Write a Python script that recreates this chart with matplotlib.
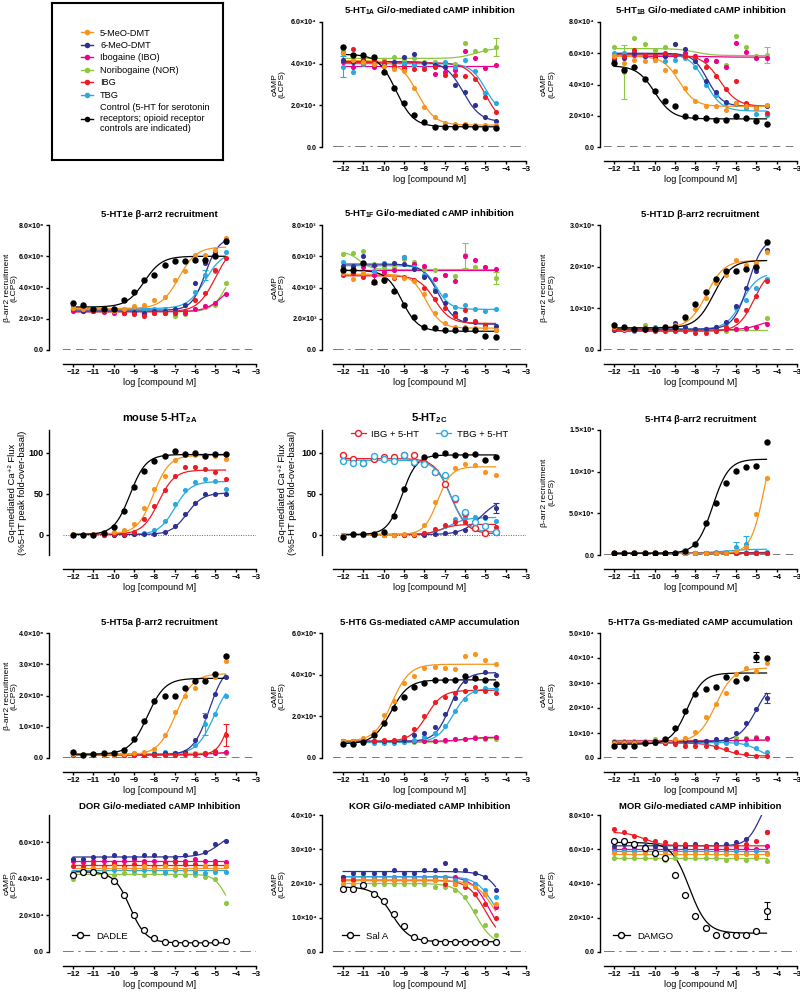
import matplotlib
matplotlib.use('Agg')
import matplotlib.pyplot as plt
import numpy as np
from matplotlib.lines import Line2D

plt.rcParams['font.family'] = ['Liberation Sans', 'DejaVu Sans']
plt.rcParams['font.weight'] = 'bold'
plt.rcParams['mathtext.fontset'] = 'custom'
plt.rcParams['mathtext.rm'] = 'Liberation Sans:bold'
plt.rcParams['mathtext.bf'] = 'Liberation Sans:bold'
plt.rcParams['mathtext.it'] = 'Liberation Sans:bold'

# log molar concentrations used in every panel
log_dose = [-12, -11.5, -11, -10.5, -10, -9.5, -9, -8.5, -8, -7.5, -7, -6.5, -6, -5.5, -5, -4.5]

# compound order: 5-MeO-DMT, 6-MeO-DMT, IBO, NOR, IBG, TBG, Control
names = ['5-MeO-DMT', '6-MeO-DMT', 'Ibogaine (IBO)', 'Noribogaine (NOR)', 'IBG', 'TBG',
         'Control (5-HT for serotonin\nreceptors; opioid receptor\ncontrols are indicated)']
colors = ['#F7941D', '#2E3192', '#EC008C', '#8DC63F', '#ED1C24', '#27AAE1', '#000000']

# ---- 5-HT1A cAMP (x1e4) ----
ht1a = [
    [4.5, 4.2, 4.1, 4.0, 3.9, 3.75, 3.65, 2.85, 1.9, 1.45, 1.15, 1.1, 1.1, 1.05, 1.05, 1.05],
    [4.2, 4.1, 4.2, 4.0, 4.0, 4.1, 4.3, 4.45, 4.05, 3.95, 3.85, 3.0, 2.65, 2.0, 1.45, 1.25],
    [4.1, 3.85, 4.0, 3.85, 3.9, 3.8, 3.9, 4.0, 3.8, 3.5, 3.6, 3.7, 4.6, 4.25, 3.8, 3.95],
    [4.6, 4.4, 4.25, 4.3, 4.2, 4.3, 4.2, 4.25, 4.1, 4.1, 4.0, 4.0, 5.0, 4.6, 4.65, 4.8],
    [4.5, 4.7, 4.3, 4.2, 4.1, 3.9, 3.8, 3.75, 3.75, 3.85, 3.45, 3.45, 3.4, 3.25, 2.4, 1.7],
    [3.85, 3.6, 4.0, 4.3, 3.95, 4.1, 4.05, 3.95, 3.8, 4.0, 4.1, 3.85, 4.2, 3.65, 2.6, 2.1],
    [4.8, 4.4, 4.4, 4.3, 3.6, 2.85, 2.1, 1.55, 1.2, 0.98, 0.95, 0.95, 1.0, 0.98, 0.92, 0.92],
]
# fit parameters: (left plateau, right plateau, logEC50, hill)
ht1a_fit = [(4.15, 1.05, -8.35, 1), (4.1, 1.2, -6.1, 1), (3.9, 3.9, -7, 1), (4.25, 4.75, -5.5, 1),
            (4.05, 1.0, -5.0, 1), (4.0, 1.6, -5.0, 1.2), (4.45, 0.97, -9.4, 1)]

# ---- 5-HT1B cAMP (x1e4) ----
ht1b = [
    [5.8, 5.4, 5.6, 5.5, 5.6, 4.95, 4.85, 3.75, 2.95, 2.65, 2.6, 2.4, 2.8, 2.6, 2.5, 2.7],
    [5.6, 5.7, 6.0, 5.8, 5.8, 5.8, 6.6, 6.3, 5.5, 4.2, 3.5, 2.9, 2.8, 2.7, 2.5, 2.6],
    [5.9, 5.8, 5.9, 5.8, 5.7, 5.8, 5.9, 6.0, 5.8, 5.6, 5.5, 5.15, 6.65, 6.05, 5.7, 5.7],
    [6.4, 4.8, 7.0, 6.6, 6.2, 6.4, 6.6, 6.0, 5.8, 5.55, 5.5, 5.25, 7.1, 6.4, 5.8, 5.9],
    [5.7, 5.8, 6.2, 5.9, 5.8, 6.0, 5.9, 5.8, 5.75, 5.1, 4.55, 3.7, 4.2, 2.8, 2.5, 2.15],
    [6.0, 6.0, 6.0, 5.8, 5.6, 5.5, 5.6, 5.7, 5.1, 4.0, 3.3, 2.8, 2.75, 2.5, 2.1, 2.05],
    [5.35, 4.95, 5.1, 4.35, 3.6, 2.95, 2.6, 2.0, 1.9, 1.85, 1.75, 1.75, 2.0, 1.85, 1.65, 1.5],
]
ht1b_fit = [(5.8, 2.6, -8.8, 1.1), (6.0, 2.6, -7.4, 1.2), (5.8, 5.75, -7, 1), (6.3, 5.85, -8, 1),
            (5.9, 2.6, -6.8, 1), (5.95, 2.3, -7.5, 1.1), (5.2, 1.8, -10.0, 1)]

# ---- 5-HT1e b-arr2 (x1e6) ----
ht1e = [
    [2.7, 2.6, 2.6, 2.55, 2.5, 2.6, 2.8, 2.85, 3.2, 3.4, 4.5, 5.05, 6.05, 6.05, 6.4, 7.2],
    [2.6, 2.5, 2.5, 2.5, 2.5, 2.45, 2.45, 2.4, 2.5, 2.5, 2.6, 2.9, 4.3, 5.6, 6.3, 6.9],
    [2.5, 2.5, 2.5, 2.45, 2.4, 2.4, 2.4, 2.4, 2.4, 2.4, 2.4, 2.4, 2.6, 2.8, 3.0, 3.6],
    [2.6, 2.6, 2.6, 2.5, 2.5, 2.4, 2.4, 2.4, 2.4, 2.4, 2.2, 2.3, 2.65, 2.75, 2.9, 4.3],
    [2.6, 2.6, 2.5, 2.5, 2.5, 2.4, 2.3, 2.2, 2.4, 2.4, 2.4, 2.5, 3.2, 3.65, 5.1, 5.9],
    [2.8, 2.7, 2.7, 2.6, 2.5, 2.6, 2.6, 2.6, 2.6, 2.65, 2.6, 2.9, 3.7, 4.8, 5.05, 6.3],
    [3.0, 2.9, 2.6, 2.6, 2.6, 3.2, 3.7, 4.5, 4.8, 5.45, 5.7, 5.7, 5.75, 5.75, 6.0, 7.0],
]
ht1e_fit = [(2.65, 6.6, -6.8, 1), (2.55, 7.2, -5.5, 1.3), (2.45, 4.5, -4.6, 1), (2.45, 6.0, -4.4, 1.2),
            (2.45, 6.8, -5.0, 1), (2.65, 6.3, -5.5, 1), (2.75, 6.0, -8.5, 1)]

# ---- 5-HT1F cAMP (x1e3) ----
ht1f = [
    [4.9, 4.55, 4.9, 4.4, 4.6, 4.7, 4.6, 4.4, 3.6, 2.4, 1.7, 1.5, 1.5, 1.4, 1.4, 1.3],
    [5.4, 5.4, 6.0, 5.45, 5.5, 5.55, 5.5, 5.2, 4.7, 3.75, 3.0, 2.4, 2.0, 1.8, 1.6, 1.55],
    [5.2, 4.9, 5.3, 4.8, 5.0, 5.1, 5.95, 5.5, 5.4, 4.55, 4.8, 4.4, 6.0, 5.75, 5.3, 5.2],
    [6.15, 6.2, 6.35, 5.5, 5.3, 5.3, 5.8, 5.65, 5.2, 5.1, 4.8, 4.75, 6.05, 5.3, 5.3, 4.6],
    [4.8, 4.9, 4.7, 4.4, 4.4, 4.6, 4.65, 4.45, 4.0, 3.25, 2.7, 2.15, 2.55, 1.85, 1.6, 1.25],
    [5.65, 5.35, 5.6, 5.05, 5.55, 4.65, 5.95, 5.3, 4.8, 3.9, 3.55, 2.75, 2.85, 2.6, 2.5, 2.6],
    [5.1, 5.1, 5.55, 4.35, 4.45, 3.8, 2.9, 2.1, 1.5, 1.4, 1.3, 1.3, 1.35, 1.25, 0.9, 0.85],
]
ht1f_fit = [(4.85, 1.4, -7.9, 1.2), (5.5, 1.65, -7.3, 1.1), (5.15, 5.15, -7, 1), (6.3, 5.15, -11.2, 1.5),
            (4.75, 1.7, -7.5, 1.1), (5.4, 2.6, -7.4, 1.3), (5.1, 1.2, -9.1, 1.1)]

# ---- 5-HT1D b-arr2 (x1e6) ----
ht1d = [
    [0.55, 0.5, 0.5, 0.55, 0.5, 0.55, 0.6, 0.75, 0.98, 1.25, 1.6, 1.8, 2.15, 2.05, 2.1, 2.35],
    [0.48, 0.5, 0.48, 0.5, 0.5, 0.5, 0.65, 0.55, 0.5, 0.5, 0.55, 0.68, 1.05, 1.5, 1.9, 2.4],
    [0.5, 0.48, 0.5, 0.5, 0.48, 0.5, 0.5, 0.5, 0.5, 0.5, 0.5, 0.5, 0.5, 0.52, 0.55, 0.62],
    [0.5, 0.5, 0.5, 0.6, 0.5, 0.5, 0.48, 0.48, 0.45, 0.45, 0.45, 0.45, 0.5, 0.5, 0.55, 0.77],
    [0.5, 0.5, 0.48, 0.48, 0.45, 0.45, 0.45, 0.45, 0.42, 0.42, 0.45, 0.55, 0.72, 0.97, 1.3, 1.65],
    [0.55, 0.5, 0.45, 0.5, 0.55, 0.5, 0.5, 0.5, 0.5, 0.5, 0.55, 0.65, 1.0, 1.2, 1.5, 1.7],
    [0.6, 0.55, 0.5, 0.5, 0.5, 0.55, 0.55, 0.8, 1.1, 1.4, 1.7, 1.9, 1.9, 1.95, 2.0, 2.6],
]
ht1d_fit = [(0.53, 2.15, -7.45, 1), (0.5, 2.7, -5.4, 1.2), (0.48, 0.75, -4.8, 1), (0.48, 0.48, -7, 1),
            (0.45, 2.0, -5.1, 1.1), (0.5, 1.85, -5.7, 1.1), (0.53, 2.15, -7.1, 1)]

# ---- mouse 5-HT2A Ca flux (%) ----
ht2a = [
    [1, 0, 1, 2, 3, 5, 13, 33, 56, 72, 91, 97, 97, 97, 96, 92],
    [0, 0, 0, 0, 0, 0, 1, 1, 1, 3, 11, 25, 39, 50, 50, 50],
    None,
    None,
    [0, 0, 0, 0, 1, 1, 3, 19, 35, 55, 72, 83, 83, 80, 77, 68],
    [0, 0, 0, 0, 0, 0, 1, 2, 6, 17, 38, 54, 64, 68, 65, 56],
    [-1, -1, 0, 2, 9, 29, 58, 78, 90, 96, 102, 99, 100, 96, 99, 99],
]
ht2a_fit = [(1, 97, -8.05, 1.1), (0, 51, -6.4, 1.1), None, None,
            (0.5, 79, -7.8, 1.1), (0, 65, -7.0, 1.1), (0, 98, -9.2, 1.1)]

# ---- 5-HT2C Ca flux (%) ----
ht2c = [
    [0, 0, 0, 0, 0, 0, 1, 1, 12, 40, 73, 82, 86, 85, 77, 73],
    [0, 0, 0, 0, 0, 0, 0, 0, 0, 1, 2, 3, 6, 17, 22, 33],
    None,
    None,
    [0, 0, 0, 0, 0, 0, 0, 0, 2, 7, 12, 15, 15, 13, 11, 9],
    [0, 0, 0, 0, 0, 0, 0, 1, 2, 6, 10, 19, 21, 22, 20, 17],
    [-3, 1, 1, 1, 3, 23, 56, 88, 95, 97, 100, 98, 98, 99, 91, 95],
]
ht2c_fit = [(0, 83, -7.35, 1.3), (0, 45, -5.2, 0.9), None, None,
            (0, 12.5, -7.2, 1.2), (0, 21, -6.8, 1), (0, 97.5, -9.1, 1.2)]
ibg_5ht = [97, 93, 88, 93, 95, 95, 98, 97, 88, 76, 62, 44, 27, 8, 2, 3]
tbg_5ht = [90, 87, 88, 96, 93, 90, 97, 89, 86, 77, 73, 45, 28, 15, 10, 3]
ibg_5ht_fit = (93, 1, -6.7, 1.1)
tbg_5ht_fit = (91, 3, -6.7, 1.1)

# ---- 5-HT4 b-arr2 (x1e6) ----
ht4 = [
    [0.02, 0.02, 0.02, 0.02, 0.02, 0.02, 0.02, 0.02, 0.02, 0.02, 0.02, 0.02, 0.05, 0.1, 0.49, 0.93],
    [0.02, 0.02, 0.02, 0.02, 0.02, 0.02, 0.02, 0.02, 0.02, 0.02, 0.02, 0.02, 0.02, 0.02, 0.03, 0.03],
    [0.02, 0.02, 0.02, 0.02, 0.02, 0.02, 0.02, 0.02, 0.02, 0.02, 0.02, 0.02, 0.03, 0.03, 0.03, 0.03],
    [0.02, 0.02, 0.02, 0.02, 0.02, 0.02, 0.02, 0.02, 0.02, 0.02, 0.02, 0.02, 0.02, 0.02, 0.02, 0.02],
    [0.02, 0.02, 0.02, 0.02, 0.02, 0.02, 0.02, 0.02, 0.02, 0.02, 0.02, 0.02, 0.02, 0.02, 0.02, 0.02],
    [0.02, 0.02, 0.02, 0.02, 0.02, 0.02, 0.02, 0.02, 0.02, 0.03, 0.04, 0.04, 0.1, 0.13, 0.04, 0.04],
    [0.02, 0.02, 0.02, 0.02, 0.02, 0.02, 0.03, 0.05, 0.13, 0.39, 0.63, 0.87, 1.01, 1.06, 1.07, 1.35],
]
ht4_fit = [(0.02, 1.6, -4.6, 1.3), (0.02, 0.03, -6, 1), (0.02, 0.03, -6, 1), (0.02, 0.02, -6, 1),
           (0.02, 0.025, -6, 1), (0.025, 0.07, -6.5, 0.8), (0.02, 1.15, -7.15, 1.1)]

# ---- 5-HT5a b-arr2 (x1e6) ----
ht5a = [
    [0.12, 0.1, 0.1, 0.1, 0.1, 0.12, 0.15, 0.18, 0.3, 0.75, 1.47, 2.0, 2.25, 2.5, 2.6, 3.1],
    [0.1, 0.1, 0.1, 0.1, 0.1, 0.1, 0.12, 0.12, 0.12, 0.15, 0.15, 0.18, 0.58, 1.35, 2.05, 2.6],
    [0.1, 0.1, 0.1, 0.1, 0.1, 0.1, 0.1, 0.1, 0.1, 0.1, 0.1, 0.12, 0.12, 0.12, 0.15, 0.18],
    [0.12, 0.12, 0.12, 0.12, 0.12, 0.12, 0.15, 0.15, 0.15, 0.15, 0.15, 0.15, 0.15, 0.15, 0.15, 0.15],
    [0.1, 0.1, 0.1, 0.1, 0.1, 0.1, 0.1, 0.1, 0.1, 0.1, 0.1, 0.12, 0.12, 0.15, 0.22, 0.75],
    [0.1, 0.1, 0.1, 0.12, 0.1, 0.12, 0.12, 0.15, 0.15, 0.18, 0.15, 0.15, 0.42, 1.1, 1.4, 2.0],
    [0.2, 0.1, 0.12, 0.15, 0.15, 0.25, 0.6, 1.2, 1.82, 2.0, 1.98, 2.25, 2.45, 2.45, 2.7, 3.25],
]
ht5a_fit = [(0.1, 2.7, -6.95, 1), (0.1, 3.0, -5.3, 1.1), (0.1, 0.2, -5, 1), (0.12, 0.15, -8, 1),
            (0.1, 2.5, -4.25, 1.5), (0.12, 2.6, -5.05, 1), (0.12, 2.55, -8.35, 1)]

# ---- 5-HT6 cAMP (x1e5) ----
ht6 = [
    [0.8, 0.8, 0.95, 1.25, 2.05, 2.75, 3.6, 3.95, 4.3, 4.35, 4.3, 4.25, 4.9, 5.0, 4.7, 4.5],
    [0.8, 0.8, 0.8, 0.8, 0.8, 0.8, 0.85, 1.1, 1.2, 1.5, 2.1, 2.9, 3.7, 3.85, 4.15, 4.0],
    [0.8, 0.8, 0.8, 0.8, 0.8, 0.8, 0.8, 0.8, 0.8, 0.8, 0.85, 0.9, 0.9, 0.95, 0.95, 1.0],
    [0.75, 0.75, 0.75, 0.75, 0.75, 0.75, 0.75, 0.75, 0.8, 0.8, 0.8, 0.9, 0.9, 1.0, 0.9, 0.9],
    [0.8, 0.8, 0.8, 0.8, 0.85, 0.85, 1.0, 1.4, 2.0, 2.7, 2.95, 3.1, 3.2, 3.4, 3.2, 3.1],
    [0.7, 0.7, 0.7, 0.7, 0.7, 0.7, 0.75, 0.85, 1.0, 1.2, 1.55, 2.25, 2.85, 3.2, 3.35, 3.3],
    [0.65, 0.65, 0.75, 1.1, 1.7, 2.4, 2.95, 3.4, 3.6, 3.75, 3.75, 3.75, 3.95, 3.85, 3.75, 3.55],
]
ht6_fit = [(0.8, 4.5, -9.6, 1), (0.8, 4.1, -6.75, 1.2), (0.8, 1.0, -6, 1), (0.75, 0.95, -6.5, 1),
           (0.8, 3.25, -7.9, 1.1), (0.75, 3.35, -6.6, 1.1), (0.68, 3.75, -9.65, 1)]

# ---- 5-HT7a cAMP (x1e4) ----
ht7a = [
    [0.6, 0.6, 0.6, 0.6, 0.65, 0.7, 0.75, 0.8, 1.05, 1.65, 2.15, 2.6, 3.35, 3.6, 3.5, 3.8],
    [0.65, 0.6, 0.6, 0.6, 0.6, 0.65, 0.7, 0.7, 0.7, 0.7, 0.75, 0.75, 1.0, 1.4, 1.95, 2.4],
    [0.65, 0.65, 0.65, 0.65, 0.7, 0.7, 0.7, 0.7, 0.7, 0.7, 0.7, 0.7, 0.7, 0.75, 0.8, 0.8],
    [0.7, 0.7, 0.7, 0.7, 0.75, 0.7, 0.7, 0.7, 0.7, 0.7, 0.7, 0.7, 0.8, 0.8, 0.85, 0.75],
    [0.55, 0.55, 0.55, 0.6, 0.6, 0.6, 0.55, 0.5, 0.5, 0.5, 0.45, 0.35, 0.25, 0.15, 0.1, 0.1],
    [0.6, 0.6, 0.6, 0.6, 0.6, 0.6, 0.6, 0.6, 0.6, 0.6, 0.6, 0.6, 0.6, 0.55, 0.4, 0.25],
    [0.5, 0.5, 0.5, 0.6, 0.65, 0.75, 1.2, 1.9, 2.55, 2.75, 2.85, 3.25, 3.1, 3.2, 4.05, 4.0],
]
ht7a_fit = [(0.65, 3.6, -7.0, 1), (0.65, 3.2, -5.0, 1), (0.68, 0.72, -6, 1), (0.72, 0.72, -6, 1),
            (0.6, 0.08, -6.6, 1), (0.62, 0.0, -4.9, 1.2), (0.55, 3.4, -8.4, 1.1)]

# ---- DOR cAMP (x1e4), control = DADLE ----
dor = [
    [4.2, 4.5, 4.6, 4.6, 4.7, 4.6, 4.6, 4.7, 4.6, 4.7, 4.6, 4.5, 4.6, 4.7, 4.6, 4.7],
    [5.1, 5.1, 5.2, 5.2, 5.3, 5.2, 5.2, 5.3, 5.3, 5.2, 5.2, 5.3, 5.4, 5.5, 5.9, 6.1],
    [5.0, 4.9, 5.0, 5.0, 4.9, 5.0, 5.1, 5.0, 5.0, 4.9, 5.0, 5.0, 5.1, 5.0, 5.0, 4.9],
    [4.0, 4.3, 4.3, 4.3, 4.2, 4.3, 4.3, 4.2, 4.3, 4.3, 4.2, 4.2, 4.2, 4.1, 4.0, 2.7],
    [4.7, 4.7, 4.8, 4.7, 4.8, 4.7, 4.8, 4.8, 4.7, 4.8, 4.9, 4.8, 4.8, 4.7, 4.8, 4.7],
    [4.4, 4.5, 4.5, 4.4, 4.5, 4.6, 4.5, 4.5, 4.5, 4.4, 4.5, 4.5, 4.4, 4.3, 4.4, 4.4],
    [4.2, 4.4, 4.4, 4.2, 3.9, 3.1, 2.0, 1.2, 0.75, 0.55, 0.5, 0.5, 0.5, 0.5, 0.55, 0.6],
]
dor_fit = [(4.6, 4.6, -6, 1), (5.2, 6.6, -4.8, 1), (5.0, 5.0, -6, 1), (4.25, 2.0, -4.5, 1.5),
           (4.78, 4.78, -6, 1), (4.47, 4.47, -6, 1), (4.4, 0.5, -9.2, 1.1)]

# ---- KOR cAMP (x1e4), control = Sal A ----
kor = [
    [2.0, 2.0, 2.1, 2.1, 2.1, 2.1, 2.1, 2.1, 2.1, 2.1, 2.1, 2.0, 2.0, 1.9, 1.7, 1.4],
    [2.2, 2.3, 2.3, 2.3, 2.3, 2.4, 2.3, 2.3, 2.4, 2.4, 2.6, 2.4, 2.4, 2.3, 2.2, 1.8],
    [2.2, 2.2, 2.2, 2.2, 2.2, 2.2, 2.2, 2.2, 2.2, 2.2, 2.2, 2.2, 2.1, 2.0, 1.7, 1.3],
    [2.0, 2.0, 2.0, 2.0, 2.0, 2.0, 2.0, 2.0, 2.0, 1.9, 1.9, 1.8, 1.6, 1.2, 0.8, 0.5],
    [2.1, 2.1, 2.1, 2.1, 2.1, 2.1, 2.1, 2.1, 2.1, 2.1, 2.0, 2.0, 1.9, 1.7, 1.4, 1.0],
    [2.2, 2.2, 2.2, 2.2, 2.2, 2.2, 2.2, 2.2, 2.2, 2.2, 2.2, 2.1, 2.1, 2.0, 1.8, 1.6],
    [1.85, 1.85, 1.95, 1.7, 1.5, 1.1, 0.75, 0.45, 0.35, 0.3, 0.3, 0.3, 0.3, 0.3, 0.3, 0.3],
]
kor_fit = [(2.08, 0.5, -4.6, 1), (2.35, 0.5, -4.0, 1), (2.2, 0.3, -4.8, 1), (2.0, 0.2, -5.5, 1),
           (2.1, 0.3, -5.0, 1), (2.2, 0.6, -4.6, 1), (1.9, 0.3, -9.6, 1)]

# ---- MOR cAMP (x1e4), control = DAMGO ----
mor = [
    [5.8, 5.8, 5.7, 5.8, 5.7, 5.7, 5.8, 5.7, 5.7, 5.8, 5.7, 5.7, 5.6, 5.7, 5.6, 5.7],
    [6.2, 6.3, 6.2, 6.2, 6.2, 6.1, 6.2, 6.2, 6.3, 6.2, 6.3, 6.3, 6.4, 6.6, 8.7, 7.0],
    [6.0, 6.0, 6.0, 6.1, 6.0, 6.0, 6.0, 6.1, 6.0, 6.0, 6.0, 6.0, 6.0, 6.1, 6.0, 6.2],
    [5.5, 5.5, 5.5, 5.5, 5.5, 5.4, 5.5, 5.5, 5.5, 5.5, 5.5, 5.4, 5.5, 5.4, 5.5, 5.3],
    [7.2, 7.0, 6.8, 6.6, 6.5, 6.4, 6.3, 6.3, 6.2, 6.2, 6.2, 6.1, 6.2, 6.3, 6.5, 7.0],
    [5.9, 5.9, 5.9, 5.8, 5.9, 5.9, 5.8, 5.9, 5.9, 5.9, 5.8, 5.9, 5.9, 5.8, 5.9, 5.8],
    [6.5, 6.5, 6.3, 6.1, 5.8, 5.5, 4.5, 3.3, 2.1, 1.4, 1.0, 1.0, 1.0, 1.0, 1.2, 2.4],
]
mor_fit = [(5.7, 5.7, -6, 1), (6.2, 9.5, -4.8, 1.3), (6.0, 6.0, -6, 1), (5.5, 5.5, -6, 1),
           (7.0, 6.2, -10.5, 1), (5.9, 5.9, -6, 1), (6.4, 1.1, -8.3, 1)]

# the larger visible error bars: (panel, compound index, dose index, sem) in panel units
sem_marks = [('ht1a', 5, 0, 0.5), ('ht1a', 3, 15, 0.45), ('ht1b', 3, 1, 1.75), ('ht1b', 3, 15, 0.5),
             ('ht1f', 2, 3, 0.6), ('ht1f', 3, 12, 0.8), ('ht1f', 3, 15, 0.4), ('ht1e', 5, 13, 0.35),
             ('ht2c', 1, 15, 6), ('ht4', 5, 12, 0.06), ('ht4', 5, 13, 0.1), ('ht5a', 4, 15, 0.35),
             ('ht5a', 5, 13, 0.35), ('ht7a', 1, 15, 0.2), ('ht7a', 6, 14, 0.2), ('mor', 6, 15, 0.5),
             ('mor', 1, 14, 0.4)]

SUP = {3: '\u00b3', 4: '\u2074', 5: '\u2075', 6: '\u2076'}
draw_order = [3, 2, 5, 1, 4, 0, 6]

# pixel layout of the grid (figure 800 x 1000)
col_left = [63, 333, 604]
col_gap = [10, 8, 3]
col_label = [18, 286, 555]        # right edge of the y label, px
row_top = [22, 225, 430, 633, 815]
row_h = [125, 125, 125, 125, 137]
ax_w = 193

fig = plt.figure(figsize=(8, 10), dpi=100)
axes = {}


def make_ax(row, col):
    h = row_h[row]
    ax = fig.add_axes([col_left[col] / 800, 1 - (row_top[row] + h) / 1000, ax_w / 800, h / 1000])
    ax.set_xlim(-12.5, -3)
    ax.spines['top'].set_visible(False)
    ax.spines['right'].set_visible(False)
    ax.spines['left'].set_position(('outward', col_gap[col]))
    ax.spines['bottom'].set_position(('outward', 10))
    ax.spines['bottom'].set_bounds(-12.5, -3)
    for s in ['left', 'bottom']:
        ax.spines[s].set_linewidth(1.0)
    ax.set_xticks(range(-12, -2))
    ax.tick_params(axis='both', length=2.5, width=1, pad=1.2, labelsize=5.8)
    ax.set_xlabel('log [compound M]', fontsize=6.6, labelpad=1.5)
    ax.patch.set_alpha(0)
    return ax


def put_ylabel(ax, col, text, size=6.1, right_px=None):
    ax.set_ylabel(text, fontsize=size, linespacing=1.0)
    px = col_label[col] if right_px is None else right_px
    ax.yaxis.set_label_coords((px - col_left[col]) / ax_w, 0.5)


def fit_line(ax, p, scale, color, lw=0.9):
    left, right, ec50, hill = p
    xs = np.linspace(-12, -4.5, 200)
    ys = left + (right - left) / (1 + 10 ** ((ec50 - xs) * hill))
    ax.plot(xs, ys * scale, color=color, lw=lw, zorder=2)


def panel(key, row, col, title, ylabel, vals, fits, scale, ymax, ystep, exp, zero_ls, ymin=0):
    ax = make_ax(row, col)
    for i in draw_order:
        if vals[i] is None:
            continue
        c = colors[i]
        ms = 4.6 if i == 6 else 3.7
        fit_line(ax, fits[i], scale, c)
        ax.plot(log_dose, np.array(vals[i]) * scale, 'o', color=c, ms=ms, mec='none', zorder=3)
    ax.axhline(0, color='#555555', lw=1.1, ls=zero_ls, zorder=1)
    ax.set_ylim(ymin, ymax)
    ticks = np.arange(0, ymax + ystep * 0.01, ystep)
    ax.set_yticks(ticks)
    if exp:
        labs = ['0.0' if t == 0 else f'{t / 10 ** exp:.1f}\u00d710{SUP[exp]}' for t in ticks]
        ax.set_yticklabels(labs, fontsize=5.1)
    ax.set_title(title, fontsize=6.8, fontweight='bold', pad=6)
    put_ylabel(ax, col, ylabel)
    axes[key] = (ax, vals, scale)
    return ax


dashdot = (0, (7, 3, 1.5, 3))
dashed = (0, (5, 3.5))

panel('ht1a', 0, 1, r'5-HT$_\mathbf{1A}$ Gi/o-mediated cAMP inhibition', 'cAMP\n(LCPS)', ht1a, ht1a_fit, 1e4, 6e4, 2e4, 4, dashdot)
panel('ht1b', 0, 2, r'5-HT$_\mathbf{1B}$ Gi/o-mediated cAMP inhibition', 'cAMP\n(LCPS)', ht1b, ht1b_fit, 1e4, 8e4, 2e4, 4, dashed)
panel('ht1e', 1, 0, '5-HT1e \u03b2-arr2 recruitment', '\u03b2-arr2 recruitment\n(LCPS)', ht1e, ht1e_fit, 1e6, 8e6, 2e6, 6, dashed)
panel('ht1f', 1, 1, r'5-HT$_\mathbf{1F}$ Gi/o-mediated cAMP inhibition', 'cAMP\n(LCPS)', ht1f, ht1f_fit, 1e3, 8e3, 2e3, 3, dashdot)
panel('ht1d', 1, 2, '5-HT1D \u03b2-arr2 recruitment', '\u03b2-arr2 recruitment\n(LCPS)', ht1d, ht1d_fit, 1e6, 3e6, 1e6, 6, dashed)

ca_label = 'Gq-mediated Ca\u207a\u00b2 Flux\n(%5-HT peak fold-over-basal)'
ax2a = panel('ht2a', 2, 0, r'mouse 5-HT$_\mathbf{2A}$', ca_label, ht2a, ht2a_fit, 1, 128, 50, 0, (0, (1, 1.5)), ymin=-25)
ax2c = panel('ht2c', 2, 1, r'5-HT$_\mathbf{2C}$', ca_label, ht2c, ht2c_fit, 1, 128, 50, 0, (0, (1, 1.5)), ymin=-25)
for ax, col, px in ((ax2a, 0, 27), (ax2c, 1, 297)):
    ax.set_yticks([0, 50, 100])
    ax.tick_params(axis='y', labelsize=6.5)
    ax.title.set_fontsize(8)
    put_ylabel(ax, col, ca_label, size=6.8, right_px=px)
    ax.yaxis.label.set_linespacing(1.1)
    for ln in ax.lines:
        if len(ln.get_xdata()) == 2:
            ln.set_color('#666666')
            ln.set_linewidth(0.7)
for vals_, fit_, c in [(ibg_5ht, ibg_5ht_fit, colors[4]), (tbg_5ht, tbg_5ht_fit, colors[5])]:
    fit_line(ax2c, fit_, 1, c)
    ax2c.plot(log_dose, vals_, 'o', mfc='white', mec=c, mew=1.0, ms=4.3, zorder=4)
h2c = [Line2D([], [], color=colors[4], marker='o', mfc='white', mec=colors[4], ms=4.3, lw=0.9),
       Line2D([], [], color=colors[5], marker='o', mfc='white', mec=colors[5], ms=4.3, lw=0.9)]
ax2c.legend(h2c, ['IBG + 5-HT', 'TBG + 5-HT'], ncol=2, loc='upper center', bbox_to_anchor=(0.5, 1.07),
            frameon=False, prop={'size': 6.8, 'weight': 'normal'}, handlelength=1.6, columnspacing=1.8,
            handletextpad=0.6)

ax4 = panel('ht4', 2, 2, '5-HT4 \u03b2-arr2 recruitment', '\u03b2-arr2 recruitment\n(LCPS)', ht4, ht4_fit, 1e6, 1.5e6, 5e5, 6, dashed)
ax4.set_yticklabels(['0.0', '5.0\u00d710\u2075', '1.0\u00d710\u2076', '1.5\u00d710\u2076'], fontsize=5.1)

panel('ht5a', 3, 0, '5-HT5a \u03b2-arr2 recruitment', '\u03b2-arr2 recruitment\n(LCPS)', ht5a, ht5a_fit, 1e6, 4e6, 1e6, 6, dashed)
panel('ht6', 3, 1, '5-HT6 Gs-mediated cAMP accumulation', 'cAMP\n(LCPS)', ht6, ht6_fit, 1e5, 6e5, 2e5, 5, dashed)
panel('ht7a', 3, 2, '5-HT7a Gs-mediated cAMP accumulation', 'cAMP\n(LCPS)', ht7a, ht7a_fit, 1e4, 5e4, 1e4, 4, dashed)

opioid = [('dor', 0, 'DOR Gi/o-mediated cAMP Inhibition', dor, dor_fit, 'DADLE', 7.5e4, 6e4, 2e4),
          ('kor', 1, 'KOR Gi/o-mediated cAMP Inhibition', kor, kor_fit, 'Sal A', 4e4, 4e4, 1e4),
          ('mor', 2, 'MOR Gi/o-mediated cAMP inhibition', mor, mor_fit, 'DAMGO', 8e4, 8e4, 2e4)]
for key, col, title, vals, fits, ctrl, top, last_tick, step in opioid:
    ax = make_ax(4, col)
    for i in draw_order[:-1]:
        fit_line(ax, fits[i], 1e4, colors[i])
        ax.plot(log_dose, np.array(vals[i]) * 1e4, 'o', color=colors[i], ms=3.7, mec='none', zorder=3)
    fit_line(ax, fits[6], 1e4, 'black')
    ax.plot(log_dose, np.array(vals[6]) * 1e4, 'o', mfc='white', mec='black', mew=0.9, ms=4.3, zorder=4)
    ax.axhline(0, color='#555555', lw=1.1, ls=dashdot, zorder=1)
    ax.set_ylim(0, top)
    ticks = np.arange(0, last_tick + 1, step)
    ax.set_yticks(ticks)
    ax.set_yticklabels(['0.0' if t == 0 else f'{t / 1e4:.1f}\u00d710\u2074' for t in ticks], fontsize=5.1)
    ax.set_title(title, fontsize=6.8, fontweight='bold', pad=4)
    put_ylabel(ax, col, 'cAMP\n(LCPS)')
    hc = Line2D([], [], color='black', marker='o', mfc='white', mec='black', ms=4.3, lw=0.9)
    ax.legend([hc], [ctrl], loc='lower left', bbox_to_anchor=(0.0, 0.02), frameon=False,
              prop={'size': 6.8, 'weight': 'normal'}, handlelength=1.8)
    axes[key] = (ax, vals, 1e4)

# error bars
for key, i, j, sem in sem_marks:
    ax, vals, scale = axes[key]
    ax.errorbar(log_dose[j], vals[i][j] * scale, yerr=sem * scale, fmt='none',
                ecolor=colors[i], elinewidth=0.8, capsize=2, capthick=0.8, zorder=2.5)

# legend box in the top-left slot
lax = fig.add_axes([52 / 800, 1 - 160 / 1000, 171 / 800, 157 / 1000])
lax.set_xticks([])
lax.set_yticks([])
for s in lax.spines.values():
    s.set_linewidth(1.5)
handles = [Line2D([], [], color=c, marker='o', ms=4, mec='none', lw=1) for c in colors]
lax.legend(handles, names, loc='upper left', bbox_to_anchor=(0.12, 0.89), frameon=False,
           prop={'size': 6.6, 'weight': 'normal'}, handlelength=1.3, handletextpad=0.8,
           labelspacing=0.38)

fig.savefig('out.png', dpi=100)
